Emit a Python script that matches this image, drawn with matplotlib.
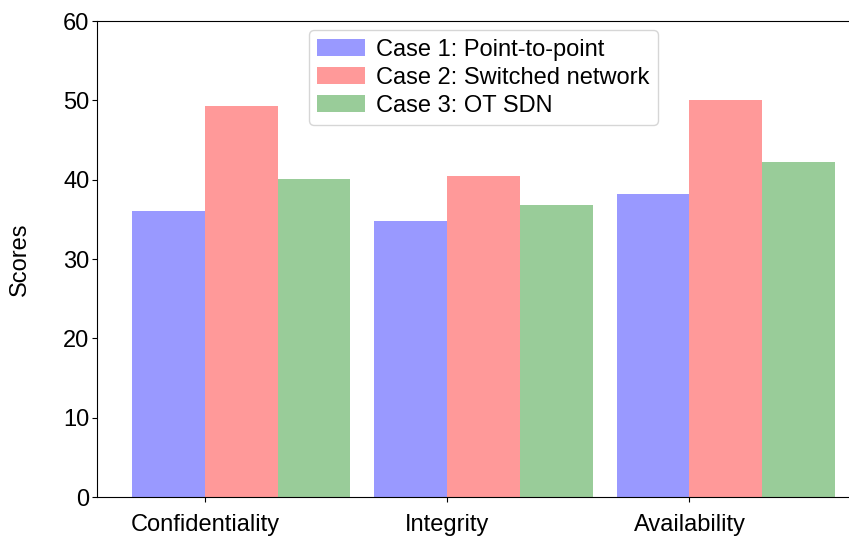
import numpy as np
import matplotlib
matplotlib.use("Agg")
import matplotlib.pyplot as plt

plt.rcParams['font.family'] = ['Liberation Sans', 'DejaVu Sans']

categories = ['Confidentiality', 'Integrity', 'Availability']
case1 = [36.1, 34.8, 38.2]
case2 = [49.3, 40.5, 50.0]
case3 = [40.1, 36.8, 42.2]
labels = ['Case 1: Point-to-point', 'Case 2: Switched network', 'Case 3: OT SDN']

fig = plt.figure(figsize=(8.49, 5.41), dpi=100)
ax = fig.add_axes([97/849, 44/541, 773/849, 476/541])

x = np.arange(len(categories))
w = 0.3
ax.bar(x - w, case1, w, align='edge', color='b', alpha=0.4, label=labels[0])
ax.bar(x, case2, w, align='edge', color='r', alpha=0.4, label=labels[1])
ax.bar(x + w, case3, w, align='edge', color='g', alpha=0.4, label=labels[2])

ax.set_xticks(x)
ax.set_xticklabels(categories, fontsize=17)
ax.tick_params(axis='x', pad=9)
ax.set_ylim(0, 60)
ax.set_yticks(range(0, 61, 10))
ax.tick_params(axis='y', labelsize=17, pad=2)
ax.set_ylabel('Scores', fontsize=17, labelpad=23)
ax.spines['right'].set_visible(False)
ax.legend(loc='upper center', fontsize=17, handletextpad=0.5,
          borderaxespad=0.4, labelspacing=0.25, borderpad=0.35)

fig.savefig('out.png', dpi=100)
